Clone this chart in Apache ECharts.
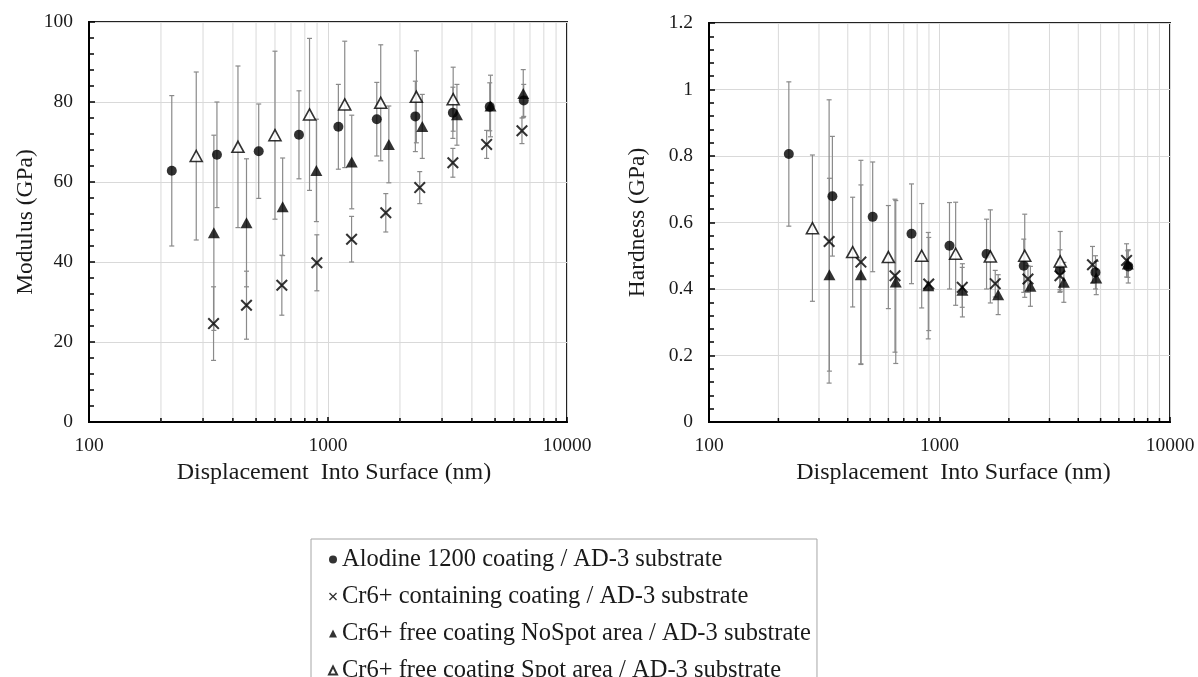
<!DOCTYPE html>
<html>
<head>
<meta charset="utf-8">
<script src="https://cdn.jsdelivr.net/npm/echarts@6/dist/echarts.min.js"></script>
<style>
  html, body { margin: 0; padding: 0; background: #ffffff; }
  #chart { width: 1198px; height: 677px; }
</style>
</head>
<body>
<div id="chart"></div>
<script>
// Series labels
const nameAlodine = 'Alodine 1200 coating / AD-3 substrate';
const nameCr6 = 'Cr6+ containing coating / AD-3 substrate';
const nameNoSpot = 'Cr6+ free coating NoSpot area / AD-3 substrate';
const nameSpot = 'Cr6+ free coating Spot area / AD-3 substrate';

// Alodine 1200 coating
const alodineDepth = [222, 343, 513, 756, 1105, 1600, 2320, 3330, 4750, 6590];
const alodineModulus = [62.8, 66.8, 67.7, 71.8, 73.8, 75.7, 76.4, 77.3, 78.8, 80.4];
const alodineModulusErr = [18.8, 13.2, 11.8, 11.0, 10.6, 9.2, 8.8, 6.4, 6.0, 4.0];
const alodineHardness = [0.806, 0.679, 0.617, 0.566, 0.530, 0.505, 0.470, 0.458, 0.450, 0.468];
const alodineHardnessErr = [0.217, 0.180, 0.165, 0.150, 0.130, 0.105, 0.080, 0.060, 0.050, 0.050];

// Cr6+ containing coating
const cr6Depth = [332, 456, 641, 898, 1255, 1745, 2420, 3330, 4610, 6480];
const cr6Modulus = [24.6, 29.2, 34.2, 39.8, 45.7, 52.3, 58.6, 64.8, 69.4, 72.8];
const cr6ModulusErr = [9.2, 8.5, 7.5, 7.0, 5.7, 4.8, 4.0, 3.6, 3.5, 3.2];
const cr6Hardness = [0.543, 0.481, 0.440, 0.415, 0.405, 0.416, 0.430, 0.440, 0.473, 0.486];
const cr6HardnessErr = [0.426, 0.306, 0.230, 0.140, 0.060, 0.040, 0.040, 0.050, 0.055, 0.050];

// Cr6+ free coating, NoSpot area
const noSpotDepth = [333, 456, 646, 894, 1257, 1797, 2480, 3463, 4786, 6560];
const noSpotModulus = [47.3, 49.8, 53.8, 62.9, 65.0, 69.4, 73.9, 76.8, 79.0, 82.1];
const noSpotModulusErr = [24.4, 16.0, 12.2, 12.8, 11.7, 9.6, 8.0, 7.6, 7.7, 6.0];
const noSpotHardness = [0.443, 0.443, 0.421, 0.410, 0.396, 0.383, 0.408, 0.420, 0.433, 0.475];
const noSpotHardnessErr = [0.290, 0.270, 0.245, 0.160, 0.080, 0.060, 0.060, 0.060, 0.050, 0.040];

// Cr6+ free coating, Spot area
const spotDepth = [281, 420, 600, 837, 1175, 1662, 2343, 3340];
const spotModulus = [66.5, 68.8, 71.7, 76.9, 79.4, 79.8, 81.3, 80.7];
const spotModulusErr = [21.0, 20.2, 21.0, 19.0, 15.8, 14.5, 11.5, 8.0];
const spotHardness = [0.583, 0.511, 0.496, 0.500, 0.506, 0.498, 0.500, 0.483];
const spotHardnessErr = [0.220, 0.165, 0.155, 0.157, 0.155, 0.140, 0.125, 0.090];

// Intermediate decade lines of the logarithmic depth axis
const logMinorTicks = [200, 300, 400, 500, 600, 700, 800, 900, 2000, 3000, 4000, 5000, 6000, 7000, 8000, 9000];

const SERIF = 'Liberation Serif';
const crossPath = 'path://M0,1.2L1.2,0L5,3.8L8.8,0L10,1.2L6.2,5L10,8.8L8.8,10L5,6.2L1.2,10L0,8.8L3.8,5Z';

const markers = [
  { name: nameAlodine, depth: alodineDepth, mod: alodineModulus, modErr: alodineModulusErr, hard: alodineHardness, hardErr: alodineHardnessErr,
    symbol: 'circle', size: 10, itemStyle: { color: '#000' } },
  { name: nameCr6, depth: cr6Depth, mod: cr6Modulus, modErr: cr6ModulusErr, hard: cr6Hardness, hardErr: cr6HardnessErr,
    symbol: crossPath, size: 12, itemStyle: { color: '#000' } },
  { name: nameNoSpot, depth: noSpotDepth, mod: noSpotModulus, modErr: noSpotModulusErr, hard: noSpotHardness, hardErr: noSpotHardnessErr,
    symbol: 'triangle', size: [12, 11], itemStyle: { color: '#000' } },
  { name: nameSpot, depth: spotDepth, mod: spotModulus, modErr: spotModulusErr, hard: spotHardness, hardErr: spotHardnessErr,
    symbol: 'triangle', size: [12, 11], itemStyle: { color: '#ffffff', borderColor: '#000', borderWidth: 1.6 } }
];

function errorBarItem(params, api) {
  const x = api.value(0);
  const top = api.coord([x, api.value(2)]);
  const bot = api.coord([x, api.value(1)]);
  const cap = 2.5;
  const style = { stroke: '#8a8a8a', lineWidth: 1.2 };
  return {
    type: 'group',
    children: [
      { type: 'line', shape: { x1: top[0], y1: top[1], x2: bot[0], y2: bot[1] }, style: style },
      { type: 'line', shape: { x1: top[0] - cap, y1: top[1], x2: top[0] + cap, y2: top[1] }, style: style },
      { type: 'line', shape: { x1: bot[0] - cap, y1: bot[1], x2: bot[0] + cap, y2: bot[1] }, style: style }
    ]
  };
}

function logGridItem(params, api) {
  const cs = params.coordSys;
  const x = api.coord([api.value(0), api.value(1)])[0];
  const bottom = cs.y + cs.height;
  return {
    type: 'group',
    children: [
      { type: 'line', shape: { x1: x, y1: cs.y, x2: x, y2: bottom }, style: { stroke: '#d9d9d9', lineWidth: 1 } },
      { type: 'line', shape: { x1: x, y1: bottom, x2: x, y2: bottom - 4 }, style: { stroke: '#000', lineWidth: 1.5 } }
    ]
  };
}

function xAxisDef(gridIndex, namePad) {
  return {
    type: 'log', logBase: 10, min: 100, max: 10000, gridIndex: gridIndex,
    name: 'Displacement  Into Surface (nm)', nameLocation: 'middle', nameGap: 21,
    nameTextStyle: { fontFamily: SERIF, fontSize: 24, color: '#1a1a1a', padding: [0, 0, 0, namePad] },
    axisLine: { onZero: false, lineStyle: { color: '#000', width: 2 } },
    axisTick: { inside: true, length: 5, lineStyle: { color: '#000', width: 1.5 } },
    axisLabel: { fontFamily: SERIF, fontSize: 19.5, color: '#1a1a1a', margin: 14,
      formatter: function (v) { return String(Math.round(v)); } },
    splitLine: { show: true, lineStyle: { color: '#d9d9d9', width: 1 } },
    minorTick: { show: false }
  };
}

function yAxisDef(gridIndex, name, max, interval, nameGap) {
  return {
    type: 'value', gridIndex: gridIndex, min: 0, max: max, interval: interval,
    name: name, nameLocation: 'middle', nameGap: nameGap,
    nameTextStyle: { fontFamily: SERIF, fontSize: 23.5, color: '#1a1a1a' },
    axisLine: { show: true, onZero: false, lineStyle: { color: '#000', width: 2 } },
    axisTick: { show: true, inside: true, length: 6, lineStyle: { color: '#000', width: 1.5 } },
    minorTick: { show: true, splitNumber: 5, length: 5, lineStyle: { color: '#000', width: 1.5 } },
    axisLabel: { fontFamily: SERIF, fontSize: 19.5, color: '#1a1a1a', margin: 16 },
    splitLine: { show: true, lineStyle: { color: '#d9d9d9', width: 1 } }
  };
}

const series = [];
[0, 1].forEach(function (g) {
  series.push({
    type: 'custom', name: 'log grid ' + g, xAxisIndex: g, yAxisIndex: g, z: 1, silent: true,
    renderItem: logGridItem, encode: { x: 0, y: 1 },
    data: logMinorTicks.map(function (v) { return [v, 0]; })
  });
});
markers.forEach(function (m) {
  [0, 1].forEach(function (g) {
    const vals = g === 0 ? m.mod : m.hard;
    const errs = g === 0 ? m.modErr : m.hardErr;
    series.push({
      type: 'custom', name: m.name + ' error ' + g, xAxisIndex: g, yAxisIndex: g, z: 2, silent: true,
      renderItem: errorBarItem, encode: { x: 0, y: [1, 2] },
      data: m.depth.map(function (d, i) { return [d, vals[i] - errs[i], vals[i] + errs[i]]; })
    });
  });
});
markers.forEach(function (m) {
  [0, 1].forEach(function (g) {
    const vals = g === 0 ? m.mod : m.hard;
    series.push({
      type: 'scatter', name: m.name, xAxisIndex: g, yAxisIndex: g, z: 3,
      symbol: m.symbol, symbolSize: m.size, itemStyle: m.itemStyle,
      data: m.depth.map(function (d, i) { return [d, vals[i]]; })
    });
  });
});

const chart = echarts.init(document.getElementById('chart'), null, { renderer: 'canvas' });
chart.setOption({
  backgroundColor: '#ffffff',
  animation: false,
  textStyle: { fontFamily: SERIF },
  grid: [
    { left: 89, top: 22, width: 478, height: 400, show: true, borderColor: '#222', borderWidth: 2, outerBoundsMode: 'none', containLabel: false },
    { left: 709, top: 23, width: 461, height: 399, show: true, borderColor: '#222', borderWidth: 2, outerBoundsMode: 'none', containLabel: false }
  ],
  xAxis: [xAxisDef(0, 12), xAxisDef(1, 28)],
  yAxis: [yAxisDef(0, 'Modulus (GPa)', 100, 20, 51), yAxisDef(1, 'Hardness (GPa)', 1.2, 0.2, 59)],
  legend: {
    orient: 'vertical', left: 311, top: 539, height: 180,
    padding: [8, 6, 12, 17],
    itemGap: 12, itemWidth: 8, itemHeight: 8,
    borderColor: '#a6a6a6', borderWidth: 1,
    textStyle: { fontFamily: SERIF, fontSize: 24.5, color: '#1a1a1a', lineHeight: 24 },
    data: [
      { name: nameAlodine, icon: 'circle' },
      { name: nameCr6, icon: crossPath },
      { name: nameNoSpot, icon: 'triangle' },
      { name: nameSpot, icon: 'triangle' }
    ]
  },
  series: series
});
</script>
</body>
</html>
